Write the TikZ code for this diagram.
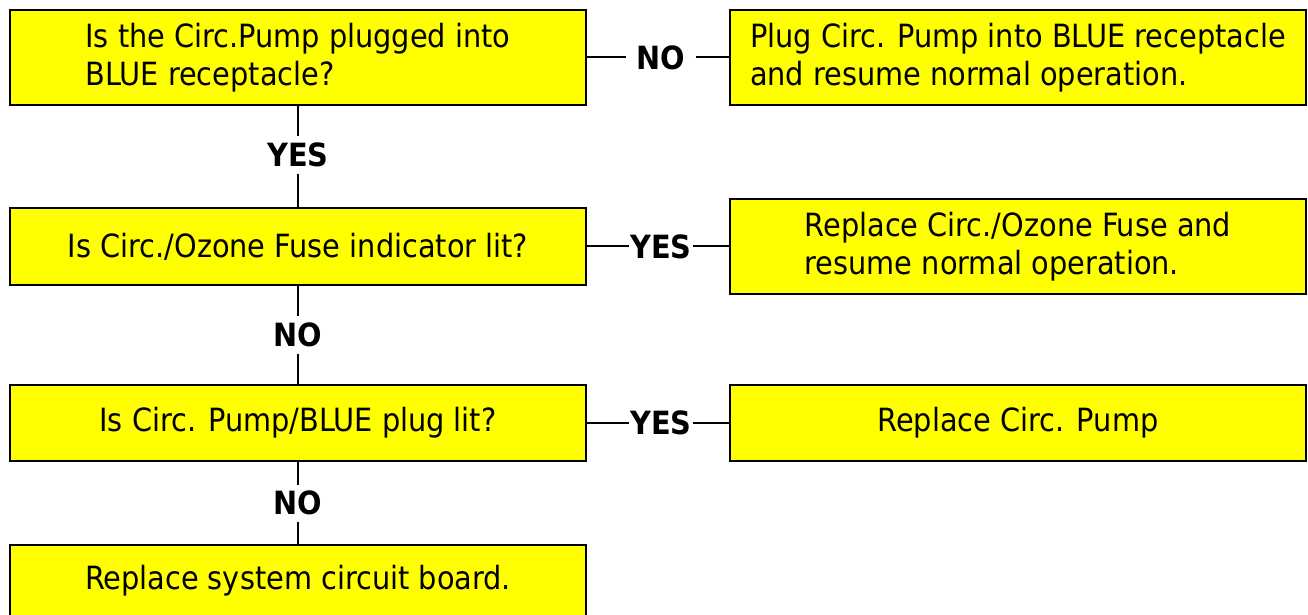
\documentclass[tikz,border=0pt]{standalone}
\usepackage{fontspec}
\setmainfont{DejaVu Sans Condensed}
\usetikzlibrary{positioning}
\definecolor{boxyellow}{RGB}{255,255,0}

\begin{document}
\begin{tikzpicture}[
  x=0.5pt, y=-0.5pt,
  mybox/.style={
    draw,
    fill=boxyellow,
    line width=1.3pt,
    minimum width=288pt,
    minimum height=#1,
    align=left,
    font=\fontsize{16}{19}\selectfont
    },
  mylabel/.style={
    inner xsep=#1,
    inner ysep=3pt,
    font=\fontsize{16}{19}\selectfont\bfseries
    },
  myline/.style={line width=1pt}
]
\useasboundingbox (0,0) rectangle (1308,615);

% left column
\node[mybox=47.5pt] (q1) at (298,57.5) {Is the Circ.Pump plugged into\\BLUE receptacle?};
\node[mybox=38.5pt] (q2) at (298,246.5) {Is Circ./Ozone Fuse indicator lit?};
\node[mybox=38pt]   (q3) at (298,423) {Is Circ. Pump/BLUE plug lit?};
\node[mybox=36pt]   (q4) at (298,581) {Replace system circuit board.};

% right column
\node[mybox=47.5pt] (r1) at (1018,57.5) {Plug Circ. Pump into BLUE receptacle\\and resume normal operation.};
\node[mybox=47.5pt] (r2) at (1018,246.5) {Replace Circ./Ozone Fuse and\\resume normal operation.};
\node[mybox=38pt]   (r3) at (1018,423) {Replace Circ. Pump};

% answers
\node[mylabel=5pt] (n1) at (661,57.5) {NO};
\node[mylabel=0.5pt] (y2) at (661,246.5) {YES};
\node[mylabel=0.5pt] (y3) at (661,423) {YES};
\node[mylabel=2pt] (y1) at (298,155) {YES};
\node[mylabel=2pt] (n2) at (298,335) {NO};
\node[mylabel=2pt] (n3) at (298,503) {NO};

% connectors
\draw[myline] (q1) -- (n1) -- (r1);
\draw[myline] (q2) -- (y2) -- (r2);
\draw[myline] (q3) -- (y3) -- (r3);
\draw[myline] (q1) -- (y1) -- (q2);
\draw[myline] (q2) -- (n2) -- (q3);
\draw[myline] (q3) -- (n3) -- (q4);

\end{tikzpicture}
\end{document}
